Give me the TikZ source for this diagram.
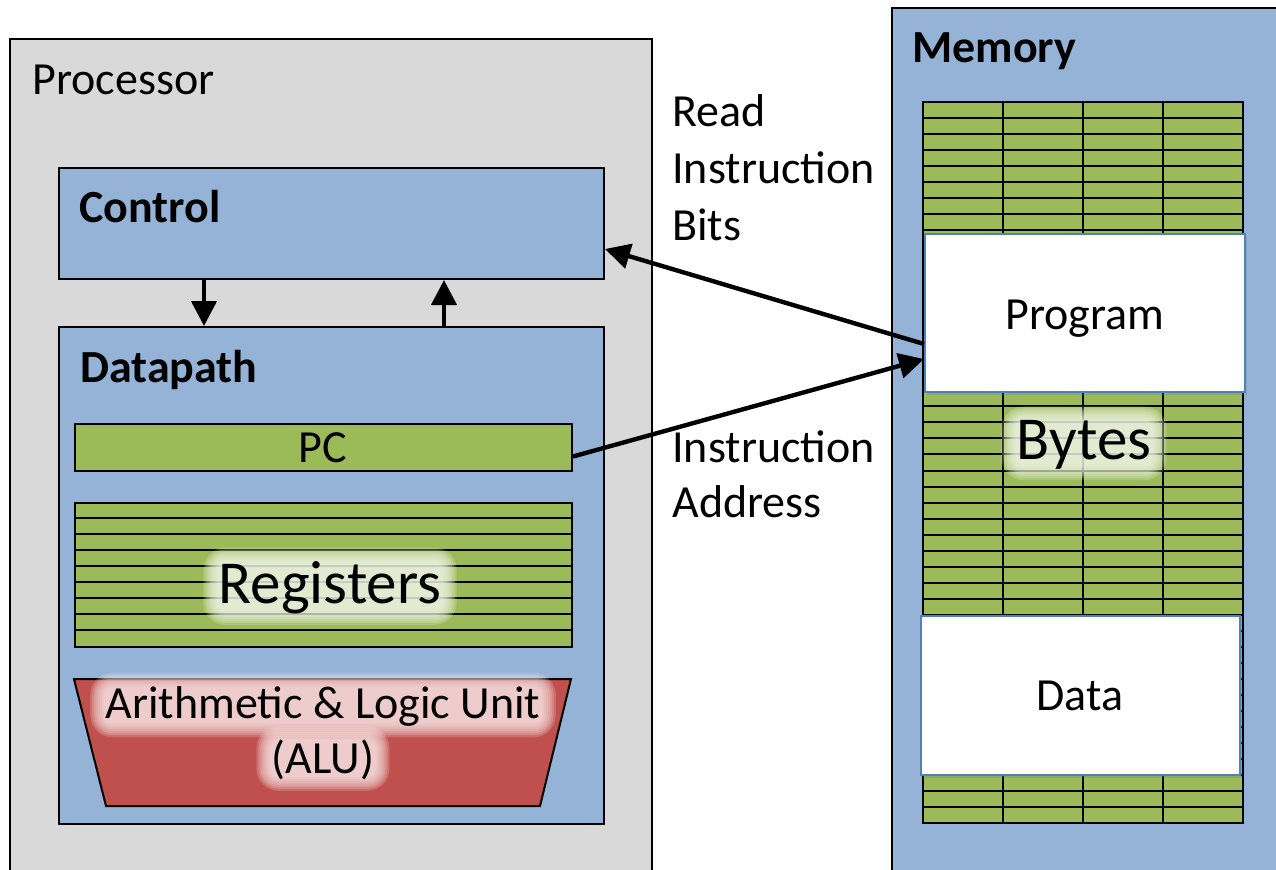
\documentclass[tikz,border=0pt]{standalone}
\usepackage{fontspec}
\setmainfont{Carlito}
\usetikzlibrary{arrows.meta,shadows,calc}
\definecolor{procgray}{HTML}{D9D9D9}
\definecolor{boxblue}{HTML}{95B3D7}
\definecolor{cellgreen}{HTML}{9BBB59}
\definecolor{alured}{HTML}{C0504D}
\definecolor{edgeblue}{HTML}{4F81BD}
\definecolor{greenglow}{HTML}{F2F7EA}
\definecolor{redglow}{HTML}{F8E8E7}

\pgfdeclarelayer{glowlayer}
\pgfdeclarelayer{fore}
\pgfsetlayers{main,glowlayer,fore}

% #1 name, #2 position (base), #3 glow colour, #4 font, #5 text
\newcommand{\glowlabel}[5]{%
  \begin{pgfonlayer}{fore}
    \node[inner sep=0, anchor=base, font=#4] (#1) at (#2) {#5};
  \end{pgfonlayer}
  \begin{pgfonlayer}{glowlayer}
    \foreach \k in {0,...,7}{%
      \fill[#3, opacity=0.2, rounded corners={(4+1*\k)*1pt}]
        ([shift={({-1-2*\k},{-3+2*\k})}]#1.south west) rectangle ([shift={({1+2*\k},{1-2*\k})}]#1.north east);
    }
  \end{pgfonlayer}
}

\tikzset{
  frame/.style={draw=black, line width=1pt, rectangle, inner sep=0, anchor=north west},
  label/.style={inner sep=0, anchor=base west, font=\fontsize{23}{28}\selectfont},
  boldlabel/.style={inner sep=0, anchor=base west, font=\fontsize{23}{28}\selectfont\bfseries},
  gridline/.style={draw=black, line width=1pt},
  whitebox/.style={draw=edgeblue, line width=1pt, fill=white, rectangle, inner sep=0, anchor=north west,
    drop shadow={shadow xshift=1.2pt, shadow yshift=-1.5pt, opacity=0.3}},
  arr/.style={line width=2.2pt, -{Triangle[length=12.5pt,width=12.5pt]}},
}

\begin{document}
\begin{tikzpicture}[x=0.5pt,y=-0.5pt]
\useasboundingbox (0,0) rectangle (1276,869);
\clip (0,0) rectangle (1276,869);
\fill[white] (0,0) rectangle (1276,869);

% Processor
\node[frame, fill=procgray, minimum width=321pt, minimum height=431pt] (proc) at (9,38) {};
\node[label] (proclabel) at (32,94) {Processor};

% Memory
\node[frame, fill=boxblue, minimum width=210pt, minimum height=440pt] (mem) at (891,7) {};
\node[boldlabel] (memlabel) at (912,62) {Memory};

% Control
\node[frame, fill=boxblue, minimum width=272.5pt, minimum height=55.5pt] (ctrl) at (58,167) {};
\node[boldlabel] (ctrllabel) at (79,222) {Control};

% Datapath
\node[frame, fill=boxblue, minimum width=272.5pt, minimum height=248.5pt] (dp) at (58,326) {};
\node[boldlabel] (dplabel) at (80,382) {Datapath};

% PC
\node[frame, fill=cellgreen, minimum width=248.5pt, minimum height=23.5pt] (pc) at (74,423) {};
\node[inner sep=0, anchor=base, font=\fontsize{23}{28}\selectfont] (pclabel) at (323,462) {PC};

% Registers
\node[frame, fill=cellgreen, minimum width=248.5pt, minimum height=72pt] (regs) at (74,502) {};
\foreach \i in {1,...,8} \draw[gridline] (74,{502+16*\i}) -- (571,{502+16*\i});
\glowlabel{regslabel}{330,603}{greenglow}{\fontsize{30.5}{36}\selectfont}{Registers}

% ALU
\draw[line width=1pt, fill=alured] (74,679) -- (571,679) -- (540,806) -- (106,806) -- cycle;
\glowlabel{alulabelA}{323,718}{redglow}{\fontsize{23}{28}\selectfont}{Arithmetic \& Logic Unit}
\glowlabel{alulabelB}{323,773}{redglow}{\fontsize{23}{28}\selectfont}{(ALU)}

% Memory grid
\fill[cellgreen] (923,102) rectangle (1243,823);
\foreach \i in {1,...,44} \draw[gridline] (923,{102+\i*16.022}) -- (1243,{102+\i*16.022});
\foreach \x in {1003,1083,1163} \draw[gridline] (\x,102) -- (\x,823);
\draw[gridline] (923,102) rectangle (1243,823);

\node[whitebox, minimum width=160pt, minimum height=79pt] (prog) at (924,233) {};
\node[inner sep=0, anchor=base, font=\fontsize{23}{28}\selectfont] (proglabel) at (1085,329) {Program};
\node[whitebox, minimum width=159.5pt, minimum height=79.5pt] (data) at (920,615) {};
\node[inner sep=0, anchor=base, font=\fontsize{23}{28}\selectfont] (datalabel) at (1080,710) {Data};

\glowlabel{byteslabel}{1084,459}{greenglow}{\fontsize{30.5}{36}\selectfont}{Bytes}

% Texts between
\node[label] (read1) at (672,126) {Read};
\node[label] (read2) at (672,183) {Instruction};
\node[label] (read3) at (672,240) {Bits};
\node[label] (addr1) at (672,462) {Instruction};
\node[label] (addr2) at (672,517) {Address};

% Arrows
\draw[arr] ([xshift=-63.75pt]ctrl.south) -- ([xshift=-63.75pt]dp.north);
\draw[arr] ([xshift=56.25pt]dp.north) -- ([xshift=56.25pt]ctrl.south);
\draw[arr] ([yshift=-15.5pt]prog.west) -- ([yshift=-12.75pt]ctrl.east);
\draw[arr] ([yshift=-4.5pt]pc.east) -- ([yshift=-23pt]prog.west);
\end{tikzpicture}
\end{document}
